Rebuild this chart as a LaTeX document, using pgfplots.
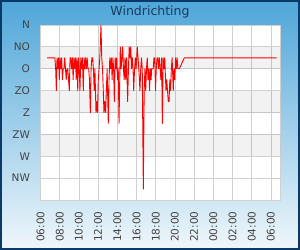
\documentclass[border=0pt]{standalone}
\usepackage{pgfplots}
\pgfplotsset{compat=1.18}
\usepackage{fontspec}
\setmainfont{DejaVu Sans}
\usetikzlibrary{shadings}
\definecolor{bgtop}{RGB}{78,166,217}
\definecolor{bgmid}{RGB}{125,190,228}
\definecolor{bgbot}{RGB}{240,247,251}
\definecolor{frame}{RGB}{10,58,104}
\definecolor{titlec}{RGB}{27,58,92}
\definecolor{tickc}{RGB}{68,68,68}
\definecolor{gridc}{RGB}{208,208,208}
\pgfplotstableread{
h dir
6.70 67.5
7.50 67.5
7.58 90
7.65 135
7.72 67.5
7.80 90
7.88 67.5
7.96 112.5
8.04 67.5
8.12 90
8.20 67.5
8.28 112.5
8.36 90
8.44 90
8.52 67.5
8.60 90
8.68 112.5
8.76 90
8.84 90
9.00 135
9.08 67.5
9.16 67.5
9.24 90
9.32 67.5
9.40 112.5
9.48 67.5
9.56 90
9.64 67.5
9.72 112.5
9.80 67.5
9.88 135
9.96 67.5
10.04 90
10.11 135
10.20 67.5
10.28 90
10.36 67.5
10.46 135
10.54 67.5
10.62 90
10.70 67.5
10.78 90
10.86 67.5
10.94 90
11.02 90
11.10 112.5
11.19 180
11.27 90
11.35 67.5
11.43 67.5
11.51 90
11.59 135
11.67 90
11.78 180
11.86 157.5
11.94 180
12.02 112.5
12.10 90
12.18 67.5
12.30 0
12.38 67.5
12.46 90
12.54 135
12.61 180
12.70 157.5
12.78 180
12.86 135
12.94 90
13.06 202.5
13.14 112.5
13.22 67.5
13.30 90
13.38 67.5
13.46 112.5
13.54 67.5
13.62 90
13.69 157.5
13.78 67.5
13.86 90
13.94 67.5
14.02 112.5
14.10 90
14.18 202.5
14.31 45
14.40 90
14.48 67.5
14.56 45
14.64 90
14.72 112.5
14.80 67.5
14.88 112.5
14.96 67.5
15.08 157.5
15.16 90
15.24 45
15.32 67.5
15.40 45
15.48 90
15.56 67.5
15.64 90
15.71 135
15.80 90
15.88 67.5
15.96 90
16.08 45
16.16 67.5
16.24 90
16.36 135
16.44 90
16.52 67.5
16.60 90
16.71 337.5
16.80 135
16.88 90
16.96 135
17.04 90
17.12 67.5
17.20 112.5
17.28 90
17.36 135
17.44 90
17.52 112.5
17.58 90
17.66 90
17.74 90
17.82 67.5
17.90 67.5
17.98 135
18.06 90
18.14 67.5
18.22 67.5
18.30 90
18.38 67.5
18.46 90
18.54 112.5
18.62 67.5
18.69 202.5
18.78 67.5
18.86 90
18.94 67.5
19.07 135
19.15 112.5
19.23 135
19.31 157.5
19.39 157.5
19.47 112.5
19.55 135
19.63 90
19.71 67.5
19.83 135
19.91 90
19.99 112.5
20.07 67.5
20.15 90
20.23 67.5
20.31 90
20.40 90
20.46 90
20.98 67.5
30.60 67.5
}\winddata
\begin{document}
\begin{tikzpicture}
\shade[top color=bgtop, middle color=bgmid, bottom color=bgbot] (0,0) rectangle (300bp,250bp);
\draw[line width=2bp, frame] (1bp,1bp) rectangle (299bp,249bp);
\node[font=\fontsize{12.5bp}{14bp}\selectfont, text=titlec] at (150bp,238bp) {Windrichting};
\begin{axis}[
  at={(40.5bp,50bp)}, anchor=south west,
  width=240bp, height=175bp, scale only axis,
  xmin=6, xmax=31,
  ymin=0, ymax=360, y dir=reverse,
  xtick={6,8,...,30},
  xticklabels={06:00,08:00,10:00,12:00,14:00,16:00,18:00,20:00,22:00,00:00,02:00,04:00,06:00},
  ytick={0,45,...,315},
  yticklabels={N,NO,O,ZO,Z,ZW,W,NW},
  major tick length=0pt,
  grid=major,
  grid style={gridc, line width=0.8bp},
  axis line style={gridc, line width=0.8bp},
  axis background/.style={fill=white},
  tick label style={font=\fontsize{10.5bp}{12bp}\selectfont, text=tickc},
  xticklabel style={rotate=90, anchor=east},
  xticklabel shift={8bp},
  yticklabel shift={7bp},
]
\fill[black, fill opacity=0.05] (axis cs:6,45) rectangle (axis cs:31,90);
\fill[black, fill opacity=0.05] (axis cs:6,135) rectangle (axis cs:31,180);
\fill[black, fill opacity=0.05] (axis cs:6,225) rectangle (axis cs:31,270);
\addplot[red, line width=0.9bp, line join=round] table[x=h, y=dir] {\winddata};
\end{axis}
\end{tikzpicture}
\end{document}
